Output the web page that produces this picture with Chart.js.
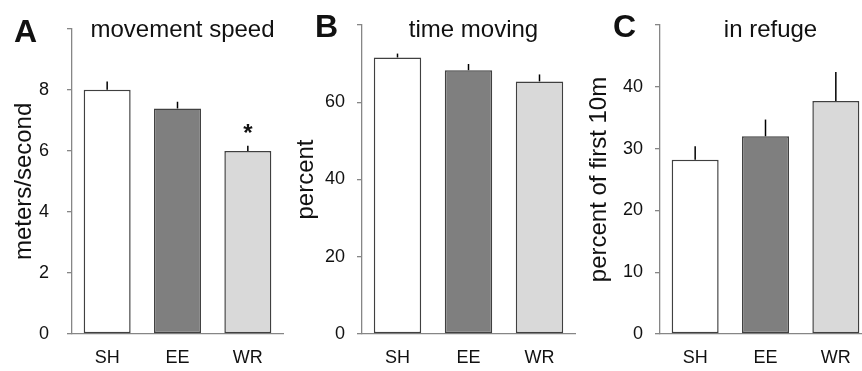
<!DOCTYPE html>
<html>
<head>
<meta charset="utf-8">
<script src="https://cdn.jsdelivr.net/npm/chart.js@4.4.0/dist/chart.umd.min.js"></script>
<style>
  html, body { margin: 0; padding: 0; background: #fff; overflow: hidden; }
  #wrap { position: relative; width: 862px; height: 371px; overflow: hidden; }
  canvas { position: absolute; top: 0; }
</style>
</head>
<body>
<div id="wrap">
  <canvas id="chartA" width="290" height="371" style="left:0px"></canvas>
  <canvas id="chartB" width="290" height="371" style="left:290px"></canvas>
  <canvas id="chartC" width="300" height="371" style="left:580px"></canvas>
</div>
<script>
// data
const groups = ['SH', 'EE', 'WR'];
const barColors = ['#ffffff', '#7f7f7f', '#d9d9d9'];

const speedMeans = [8.0, 7.39, 6.0];
const speedErrors = [0.27, 0.22, 0.17];
const speedMarks = ['', '', '*'];

const movingMeans = [71.6, 68.3, 65.4];
const movingErrors = [1.0, 1.6, 1.8];

const refugeMeans = [28.2, 32.0, 37.7];
const refugeErrors = [2.2, 2.7, 4.7];

const axisGray = '#868686';
const textColor = '#111';
Chart.defaults.font.family = '"Liberation Sans", Arial, sans-serif';

// error bars, asterisk, panel letter and panel title
const panelDecor = {
  id: 'panelDecor',
  afterDatasetsDraw(chart, args, opts) {
    const ctx = chart.ctx;
    const area = chart.chartArea;
    const yScale = chart.scales.y;
    const meta = chart.getDatasetMeta(0);
    ctx.save();
    ctx.strokeStyle = '#000';
    ctx.lineWidth = 1.5;
    ctx.fillStyle = textColor;
    meta.data.forEach((bar, i) => {
      const top = yScale.getPixelForValue(opts.means[i] + opts.errors[i]);
      ctx.beginPath();
      ctx.moveTo(bar.x, bar.y);
      ctx.lineTo(bar.x, top);
      ctx.stroke();
      if (opts.marks && opts.marks[i]) {
        ctx.font = 'bold 24px "Liberation Sans", Arial, sans-serif';
        ctx.textAlign = 'center';
        ctx.textBaseline = 'alphabetic';
        ctx.fillText(opts.marks[i], bar.x, top - 5);
      }
    });
    ctx.textBaseline = 'alphabetic';
    ctx.textAlign = 'left';
    ctx.font = 'bold 32px "Liberation Sans", Arial, sans-serif';
    ctx.fillText(opts.letter, area.left + opts.letterDx, opts.letterY);
    ctx.textAlign = 'center';
    ctx.font = '24px "Liberation Sans", Arial, sans-serif';
    ctx.fillText(opts.title, (area.left + area.right) / 2 + 5, 37);
    ctx.restore();
  }
};

function makePanel(canvasId, cfg) {
  const tickFont = { size: 18 };
  return new Chart(document.getElementById(canvasId), {
    type: 'bar',
    data: {
      labels: groups,
      datasets: [{
        data: cfg.means,
        backgroundColor: barColors,
        borderColor: '#404040',
        borderWidth: 1.5,
        borderSkipped: false,
        barPercentage: 0.668,
        categoryPercentage: 1
      }]
    },
    options: {
      responsive: false,
      animation: false,
      events: [],
      layout: { padding: { top: 25, right: cfg.padRight, left: 0, bottom: 0 } },
      plugins: {
        legend: { display: false },
        tooltip: { enabled: false },
        panelDecor: {
          means: cfg.means,
          errors: cfg.errors,
          marks: cfg.marks,
          letter: cfg.letter,
          letterDx: cfg.letterDx,
          letterY: cfg.letterY,
          title: cfg.title
        }
      },
      scales: {
        x: {
          grid: { display: false, drawTicks: false },
          border: { color: axisGray, width: 1.3 },
          ticks: { font: tickFont, color: textColor, padding: 13 },
          afterFit: s => { s.height = 37; }
        },
        y: {
          min: 0,
          max: cfg.max,
          ticks: {
            stepSize: cfg.step,
            padding: cfg.tickPad,
            font: tickFont,
            color: textColor,
            callback: v => (v === cfg.max ? '' : v)
          },
          grid: { drawOnChartArea: false, tickLength: 5, color: axisGray, lineWidth: 1.3 },
          border: { color: axisGray, width: 1.3 },
          title: {
            display: true,
            text: cfg.yTitle,
            color: textColor,
            font: { size: 24 },
            padding: { top: cfg.titlePad, bottom: 0 }
          },
          afterFit: s => { s.width = cfg.axisX; }
        }
      }
    },
    plugins: [panelDecor]
  });
}

makePanel('chartA', {
  means: speedMeans, errors: speedErrors, marks: speedMarks,
  max: 10, step: 2, yTitle: 'meters/second', title: 'movement speed',
  letter: 'A', letterDx: -58, letterY: 42,
  axisX: 72, padRight: 7, tickPad: 18, titlePad: 10
});

makePanel('chartB', {
  means: movingMeans, errors: movingErrors,
  max: 80, step: 20, yTitle: 'percent', title: 'time moving',
  letter: 'B', letterDx: -47, letterY: 37,
  axisX: 72, padRight: 5, tickPad: 12, titlePad: 2
});

makePanel('chartC', {
  means: refugeMeans, errors: refugeErrors,
  max: 50, step: 10, yTitle: 'percent of first 10m', title: 'in refuge',
  letter: 'C', letterDx: -47, letterY: 37,
  axisX: 80, padRight: 9, tickPad: 12, titlePad: 5
});
</script>
</body>
</html>
